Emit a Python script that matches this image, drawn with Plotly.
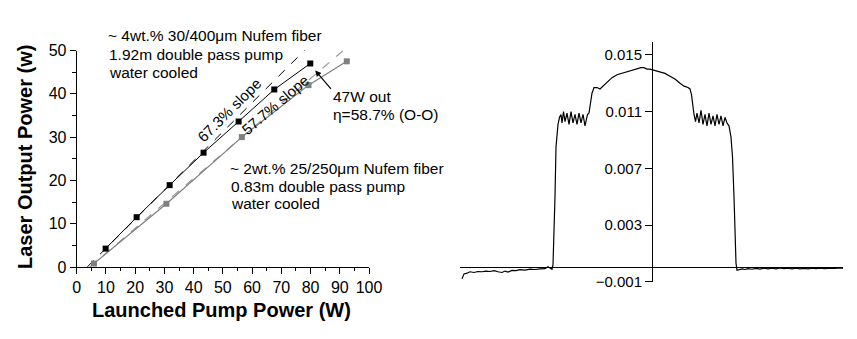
import plotly.graph_objects as go

# ---------------- data: laser output vs launched pump ----------------
pump_4wt = [9.9, 20.5, 31.8, 43.4, 55.4, 67.6, 79.9]
out_4wt = [4.25, 11.5, 18.9, 26.4, 33.6, 41.0, 47.0]

pump_2wt = [5.9, 30.7, 56.5, 79.3, 92.4]
out_2wt = [0.8, 14.6, 30.0, 42.0, 47.5]

# linear slope fits (end points)
fit_4wt_x = [3.6, 78.2]
fit_4wt_y = [0.0, 50.2]
fit_2wt_x = [4.5, 91.2]
fit_2wt_y = [0.0, 50.0]

x_ticks = [0, 10, 20, 30, 40, 50, 60, 70, 80, 90, 100]
y_ticks = [0, 10, 20, 30, 40, 50]

# ---------------- data: output beam intensity profile ----------------
profile_pos = [
    -190, -188, -185, -182, -178, -174, -170, -166, -162, -158,
    -154, -150, -147, -144, -140, -136, -132, -127, -122, -117,
    -112, -107, -104, -102, -100, -99, -98, -97, -96, -95,
    -94, -92.5, -91, -90, -88.5, -87, -85, -83, -81, -79,
    -77, -75, -73, -71, -69, -67, -65.5, -64.5, -63, -61.5,
    -60, -58, -55, -52, -49, -45, -40, -35, -30, -25,
    -20, -15, -11, -8, -5, -2, 3, 8, 13, 18,
    23, 28, 32, 36, 38, 39.5, 40.5, 42, 43.5, 45,
    47, 49, 51, 53, 55, 57, 59, 61, 63, 65,
    67, 69, 71, 73, 75, 77, 79, 80.5, 82, 83,
    84, 85, 87, 90, 93, 96, 100, 104, 108, 112,
    116, 120, 124, 128, 132, 136, 140, 144, 148, 152,
    156, 160, 164, 168, 173, 178, 183, 188, 191,
]
profile_val = [
    -0.00080, -0.00045, -0.00040, -0.00030, -0.00035, -0.00028, -0.00030, -0.00025, -0.00028, -0.00022,
    -0.00030, -0.00035, -0.00025, -0.00032, -0.00020, -0.00022, -0.00015, -0.00018, -0.00012, -0.00014,
    -0.00010, -0.00008, 0.00005, -0.00005, -0.00012, 0.0002, 0.0020, 0.0050, 0.0085, 0.0097,
    0.0101, 0.0106, 0.0108, 0.0102, 0.0110, 0.0103, 0.0109, 0.0101, 0.0110, 0.0102,
    0.0108, 0.0101, 0.0109, 0.0102, 0.0108, 0.0100, 0.0106, 0.0108, 0.0109, 0.0115,
    0.0123, 0.0127, 0.0127, 0.0126, 0.0128, 0.0131, 0.0134, 0.0136, 0.0137, 0.0138,
    0.0139, 0.0140, 0.0141, 0.0141, 0.0140, 0.0140, 0.0139, 0.0138, 0.0137, 0.0135,
    0.0133, 0.0130, 0.0128, 0.0127, 0.0126, 0.0122, 0.0115, 0.0108, 0.0103, 0.0109,
    0.0102, 0.0111, 0.0101, 0.0108, 0.0100, 0.0109, 0.0101, 0.0107, 0.0100, 0.0108,
    0.0101, 0.0107, 0.0100, 0.0106, 0.0102, 0.0100, 0.0092, 0.0078, 0.0050, 0.0020,
    0.0003, -0.0002, -0.00018, -0.00010, -0.00014, -0.00008, -0.00012, -0.00006, -0.00011, -0.00005,
    -0.00010, -0.00004, -0.00009, -0.00003, -0.00008, -0.00004, -0.00009, -0.00005, -0.00010, -0.00006,
    -0.00009, -0.00004, -0.00008, -0.00005, -0.00008, -0.00004, -0.00007, -0.00003, -0.00006,
]
profile_ticks = [0.015, 0.011, 0.007, 0.003, -0.001]
profile_ticktext = ["0.015", "0.011", "0.007", "0.003", "\u22120.001"]

# ---------------- figure ----------------
W, H = 857, 339
FONT = "Liberation Sans, Arial, Helvetica, sans-serif"
GRAY = "#7f7f7f"


def px(x):
    return x / W


def py(y):
    return 1 - y / H


fig = go.Figure()

fig.add_trace(go.Scatter(
    x=fit_4wt_x, y=fit_4wt_y, mode="lines",
    line=dict(color="black", width=1, dash="dash"),
    xaxis="x", yaxis="y", cliponaxis=False, showlegend=False))
fig.add_trace(go.Scatter(
    x=fit_2wt_x, y=fit_2wt_y, mode="lines",
    line=dict(color="#9a9a9a", width=1.2, dash="dash"),
    xaxis="x", yaxis="y", cliponaxis=False, showlegend=False))
fig.add_trace(go.Scatter(
    x=pump_2wt, y=out_2wt, mode="lines+markers",
    line=dict(color=GRAY, width=1.2),
    marker=dict(symbol="square", size=6, color=GRAY),
    xaxis="x", yaxis="y", cliponaxis=False, showlegend=False))
fig.add_trace(go.Scatter(
    x=pump_4wt, y=out_4wt, mode="lines+markers",
    line=dict(color="black", width=1),
    marker=dict(symbol="square", size=6, color="black"),
    xaxis="x", yaxis="y", cliponaxis=False, showlegend=False))

fig.add_trace(go.Scatter(
    x=profile_pos, y=profile_val, mode="lines",
    line=dict(color="black", width=1.2),
    xaxis="x2", yaxis="y2", showlegend=False))

axis_common = dict(
    showgrid=False, zeroline=False, showline=True, linecolor="black",
    linewidth=1, ticks="outside", tickcolor="black", tickwidth=1,
    automargin=False,
    tickfont=dict(family=FONT, size=16, color="black"),
)

fig.update_layout(
    template="none",
    width=W, height=H, autosize=False,
    margin=dict(l=0, r=0, t=0, b=0),
    paper_bgcolor="white", plot_bgcolor="white",
    font=dict(family=FONT, color="black"),
    xaxis=dict(
        domain=[px(76.7), px(369)], range=[0, 100], anchor="y",
        tickvals=x_ticks, ticklen=6,
        minor=dict(dtick=5, tick0=0, ticks="outside", ticklen=3, tickcolor="black"),
        **axis_common),
    yaxis=dict(
        domain=[py(267), py(50.5)], range=[0, 50], anchor="x",
        tickvals=y_ticks, ticklen=6,
        minor=dict(dtick=5, tick0=0, ticks="outside", ticklen=4, tickcolor="black"),
        **axis_common),
    xaxis2=dict(
        domain=[px(460), px(843)], range=[-192, 191], anchor="y2",
        showgrid=False, zeroline=False, showline=False, showticklabels=False,
        ticks="", automargin=False),
    yaxis2=dict(
        domain=[py(282.4), py(42.2)], range=[-0.00105, 0.0159],
        anchor="free", position=px(652), side="left", automargin=False,
        showgrid=False, showline=True, linecolor="black", linewidth=1,
        zeroline=True, zerolinecolor="black", zerolinewidth=1.2,
        ticks="outside", ticklen=7, tickcolor="black",
        tickvals=profile_ticks, ticktext=profile_ticktext,
        tickfont=dict(family=FONT, size=15, color="black")),
)

ann = []


def label(text, x, y, size=15.5, xanchor="left", angle=0, bold=False):
    t = f"<b>{text}</b>" if bold else text
    ann.append(dict(
        text=t, x=px(x), y=py(y), xref="paper", yref="paper",
        xanchor=xanchor, yanchor="middle", showarrow=False,
        textangle=angle, font=dict(family=FONT, size=size, color="black")))


label("~ 4wt.% 30/400\u03bcm Nufem fiber", 106, 36)
label("1.92m double pass pump", 107, 54.5)
label("water cooled", 107, 72)
label("~ 2wt.% 25/250\u03bcm Nufem fiber", 228, 168)
label("0.83m double pass pump", 229, 186)
label("water cooled", 229, 203)
label("47W out", 331, 96)
label("\u03b7=58.7% (O-O)", 331, 114)
label("Laser Output Power (w)", 25, 157, size=20, xanchor="center", angle=-90, bold=True)
label("Launched Pump Power (W)", 221.5, 310, size=20, xanchor="center", bold=True)

# rotated slope labels, anchored in data coordinates
ann.append(dict(text="67.3% slope", x=52.4, y=36.3, xref="x", yref="y",
                showarrow=False, textangle=-45,
                font=dict(family=FONT, size=15, color="black")))
ann.append(dict(text="57.7% slope", x=68.0, y=37.5, xref="x", yref="y",
                showarrow=False, textangle=-40.5,
                font=dict(family=FONT, size=15, color="black")))

# arrow pointing to the 47 W point
ann.append(dict(text="", x=81.6, y=45.4, xref="x", yref="y",
                ax=17, ay=20, showarrow=True, arrowhead=2, arrowsize=1,
                arrowwidth=1.2, arrowcolor="black"))

fig.update_layout(annotations=ann)

fig.write_html("out.html")
